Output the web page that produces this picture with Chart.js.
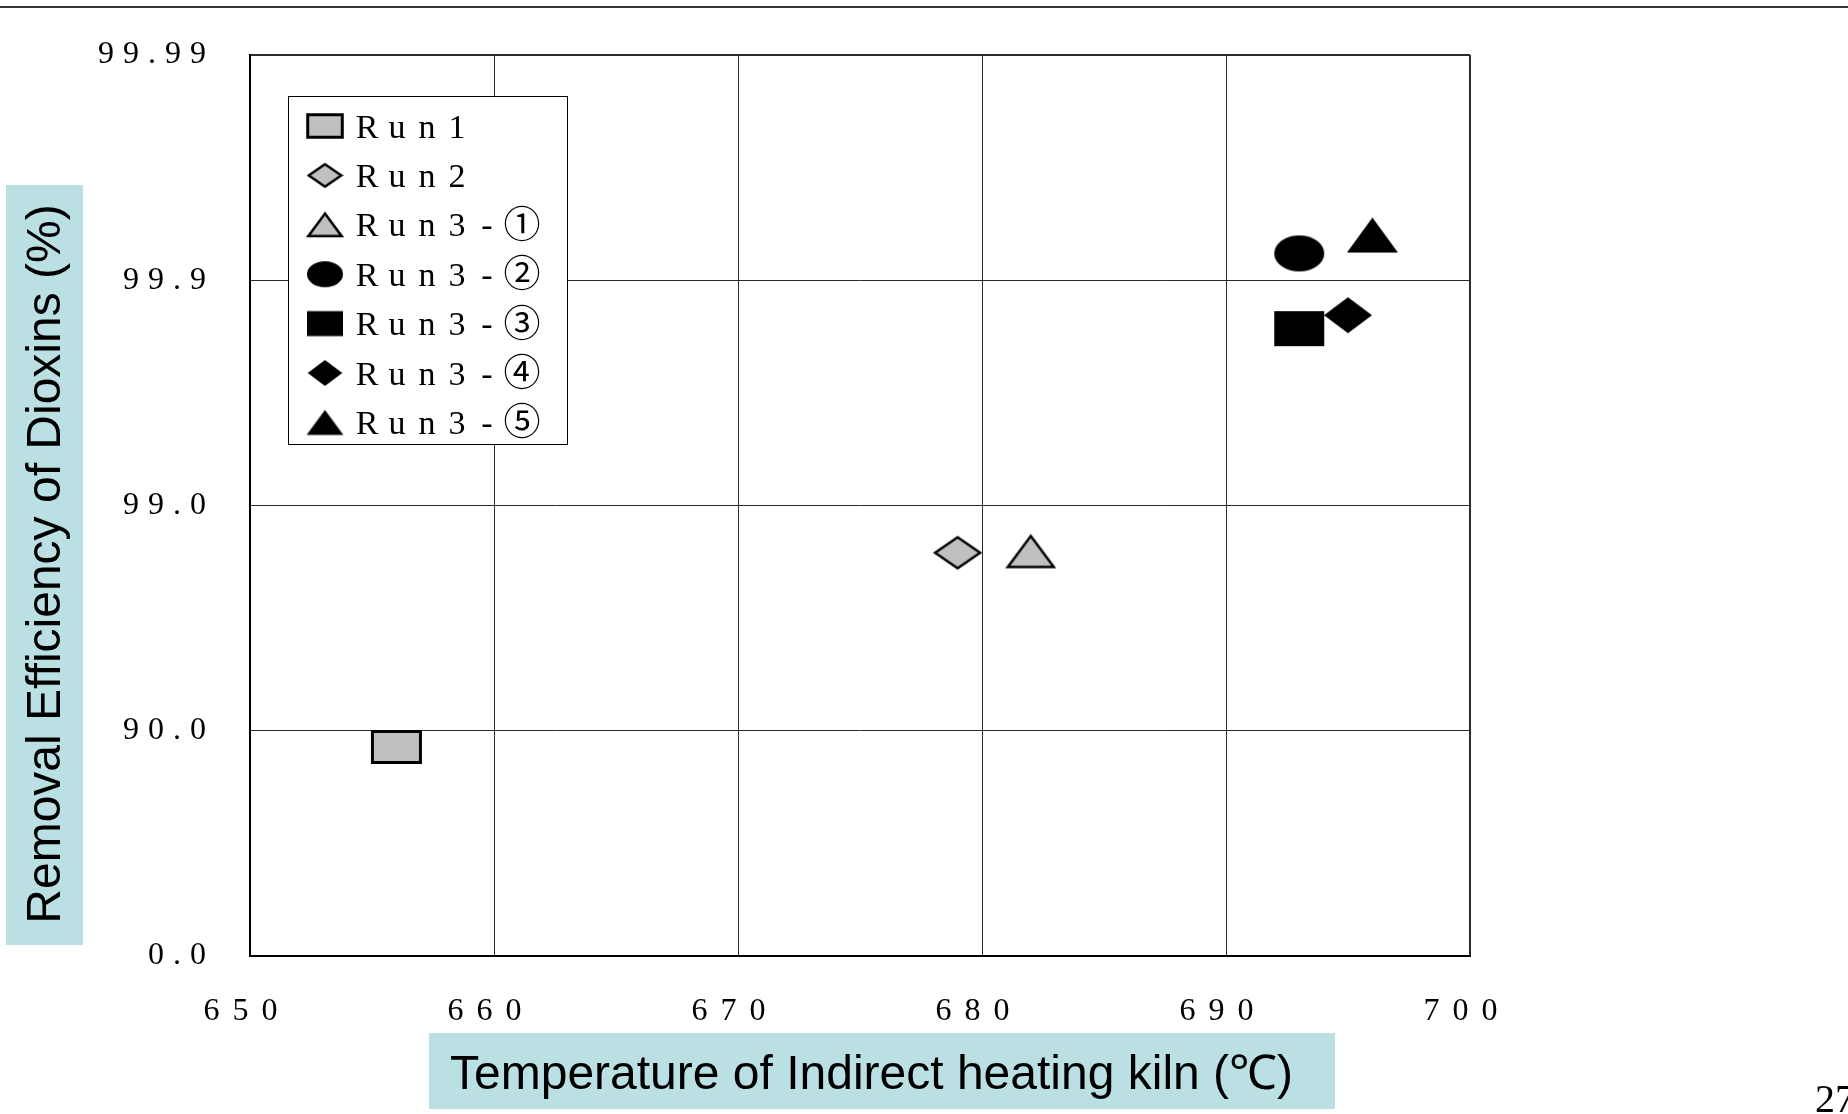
<!DOCTYPE html>
<html>
<head>
<meta charset="utf-8">
<title>Removal Efficiency of Dioxins</title>
<script src="https://cdn.jsdelivr.net/npm/chart.js@4.4.1/dist/chart.umd.min.js"></script>
<style>
  html, body { margin: 0; padding: 0; background: #fff; }
  canvas { display: block; }
</style>
</head>
<body>
<canvas id="dioxinChart" width="1848" height="1114"></canvas>
<script>
// Data
const runLabels = ['Run1', 'Run2', 'Run3-①', 'Run3-②', 'Run3-③', 'Run3-④', 'Run3-⑤'];
const kilnTemp = [656, 679, 682, 693, 693, 695, 696];          // deg C
const removalEff = [88.2, 98.38, 98.4, 99.924, 99.836, 99.857, 99.937]; // %
const xTickValues = [650, 660, 670, 680, 690, 700];
const yTickLabels = ['0.0', '90.0', '99.0', '99.9', '99.99'];

// the y axis is spaced by "number of nines": 0 -> 0, 90 -> 1, 99 -> 2 ...
function toNines(eff) {
    return -Math.log10(1 - eff / 100);
}

// marker look per run (shape, fill, outline)
const markerStyles = [
    { shape: 'rect',     w: 48, h: 31, fill: '#c0c0c0', lw: 3 },
    { shape: 'diamond',  w: 45, h: 31, fill: '#c0c0c0', lw: 2.5 },
    { shape: 'triangle', w: 46, h: 31, fill: '#c0c0c0', lw: 2.5 },
    { shape: 'ellipse',  w: 50, h: 36, fill: '#000', lw: 0 },
    { shape: 'rect',     w: 50, h: 35, fill: '#000', lw: 0 },
    { shape: 'diamond',  w: 48, h: 36, fill: '#000', lw: 0 },
    { shape: 'triangle', w: 51, h: 35, fill: '#000', lw: 0 },
];

function makeMarker(st, k) {
    const w = st.w * k, h = st.h * k, lw = st.lw;
    const c = document.createElement('canvas');
    c.width = Math.ceil(w + lw + 2);
    c.height = Math.ceil(h + lw + 2);
    const g = c.getContext('2d');
    const cx = c.width / 2, cy = c.height / 2;
    g.beginPath();
    if (st.shape === 'rect') {
        g.rect(cx - w / 2, cy - h / 2, w, h);
    } else if (st.shape === 'diamond') {
        g.moveTo(cx, cy - h / 2);
        g.lineTo(cx + w / 2, cy);
        g.lineTo(cx, cy + h / 2);
        g.lineTo(cx - w / 2, cy);
        g.closePath();
    } else if (st.shape === 'triangle') {
        g.moveTo(cx, cy - h / 2);
        g.lineTo(cx + w / 2, cy + h / 2);
        g.lineTo(cx - w / 2, cy + h / 2);
        g.closePath();
    } else {
        g.ellipse(cx, cy, w / 2, h / 2, 0, 0, Math.PI * 2);
    }
    g.fillStyle = st.fill;
    g.fill();
    if (lw) {
        g.lineWidth = lw;
        g.strokeStyle = '#000';
        g.lineJoin = 'miter';
        g.stroke();
    }
    return c;
}

const plotMarkers = markerStyles.map(st => makeMarker(st, 1));
const legendMarkers = markerStyles.map(st => makeMarker(st, 0.72));

const datasets = runLabels.map((label, i) => ({
    label: label,
    data: [{ x: kilnTemp[i], y: toNines(removalEff[i]) }],
    pointStyle: plotMarkers[i],
    pointRadius: 25,
    pointHoverRadius: 25,
}));

const serifFont = '"Liberation Serif", "DejaVu Serif", serif';
const cjkFont = '"Noto Sans CJK JP", "DejaVu Sans", sans-serif';

// Spaced-out Mincho-like tick text, legend box, axis title boxes, page decorations
const pagePlugin = {
    id: 'pagePlugin',
    beforeDraw(chart) {
        // y tick labels are drawn before the datasets
        chart.ctx.letterSpacing = '9px';
    },
    beforeDatasetsDraw(chart) {
        // x tick labels sit on a layer above the datasets
        chart.ctx.letterSpacing = '13px';
    },
    afterDraw(chart) {
        const ctx = chart.ctx;
        ctx.letterSpacing = '0px';
        ctx.save();

        // rule across the top of the page
        ctx.fillStyle = '#353535';
        ctx.fillRect(0, 6, chart.width, 2);

        // legend
        const lx = 288, ly = 96, lw = 279, lh = 348;
        ctx.fillStyle = '#fff';
        ctx.fillRect(lx, ly, lw, lh);
        ctx.strokeStyle = '#000';
        ctx.lineWidth = 1;
        ctx.strokeRect(lx + 0.5, ly + 0.5, lw, lh);
        ctx.fillStyle = '#000';
        ctx.textAlign = 'center';
        ctx.textBaseline = 'alphabetic';
        chart.data.datasets.forEach((ds, i) => {
            const cy = 126 + i * 49.4;
            const m = legendMarkers[i];
            ctx.drawImage(m, 325 - m.width / 2, cy - m.height / 2);
            Array.from(ds.label).forEach((ch, j) => {
                const wide = ch.charCodeAt(0) > 0x2000;
                ctx.font = wide ? '37px ' + cjkFont : '34px ' + serifFont;
                ctx.fillText(ch, 367 + j * 30 + (wide ? 5 : 0), cy + (wide ? 13 : 11.5));
            });
        });

        // y axis title
        ctx.fillStyle = '#bae0e3';
        ctx.fillRect(6, 185, 77, 760);
        ctx.save();
        ctx.translate(60, 564);
        ctx.rotate(-Math.PI / 2);
        ctx.fillStyle = '#000';
        ctx.font = '48px "Liberation Sans", Arial, sans-serif';
        ctx.textAlign = 'center';
        ctx.textBaseline = 'alphabetic';
        ctx.fillText('Removal Efficiency of Dioxins (%)', 0, 0);
        ctx.restore();

        // x axis title
        ctx.fillStyle = '#bae0e3';
        ctx.fillRect(429, 1033, 906, 76);
        ctx.fillStyle = '#000';
        ctx.font = '48px "Liberation Sans", Arial, sans-serif';
        ctx.textAlign = 'left';
        ctx.fillText('Temperature of Indirect heating kiln (℃)', 450, 1089);

        // page number
        ctx.font = '40px ' + serifFont;
        ctx.fillText('27', 1815, 1112);
        ctx.restore();
    },
};

const gridColor = '#2a2a2a';

new Chart(document.getElementById('dioxinChart'), {
    type: 'scatter',
    data: { datasets: datasets },
    options: {
        responsive: false,
        animation: false,
        devicePixelRatio: 1,
        layout: {
            padding: { top: 55, right: 378, left: 0, bottom: 0 },
        },
        plugins: {
            legend: { display: false },
            tooltip: { enabled: false },
        },
        scales: {
            x: {
                type: 'linear',
                min: xTickValues[0],
                max: xTickValues[xTickValues.length - 1],
                afterFit: function(scale) { scale.height = 158; },
                afterBuildTicks: function(scale) {
                    scale.ticks = xTickValues.map(v => ({ value: v }));
                },
                grid: {
                    color: gridColor,
                    lineWidth: ctx => (ctx.index === xTickValues.length - 1 ? 2 : 1),
                    drawTicks: false,
                },
                border: { color: '#000', width: 2 },
                ticks: {
                    z: 1,
                    color: '#000',
                    padding: 36,
                    labelOffset: -3,
                    maxRotation: 0,
                    font: { family: serifFont, size: 32 },
                    callback: v => String(v),
                },
            },
            y: {
                type: 'linear',
                min: 0,
                max: yTickLabels.length - 1,
                afterFit: function(scale) { scale.width = 250; },
                afterBuildTicks: function(scale) {
                    scale.ticks = yTickLabels.map((t, i) => ({ value: i }));
                },
                grid: {
                    color: gridColor,
                    lineWidth: ctx => (ctx.index === yTickLabels.length - 1 ? 2 : 1),
                    drawTicks: false,
                },
                border: { color: '#000', width: 2 },
                ticks: {
                    color: '#000',
                    padding: 35,
                    font: { family: serifFont, size: 32 },
                    callback: v => yTickLabels[v],
                },
            },
        },
    },
    plugins: [pagePlugin],
});
</script>
</body>
</html>
